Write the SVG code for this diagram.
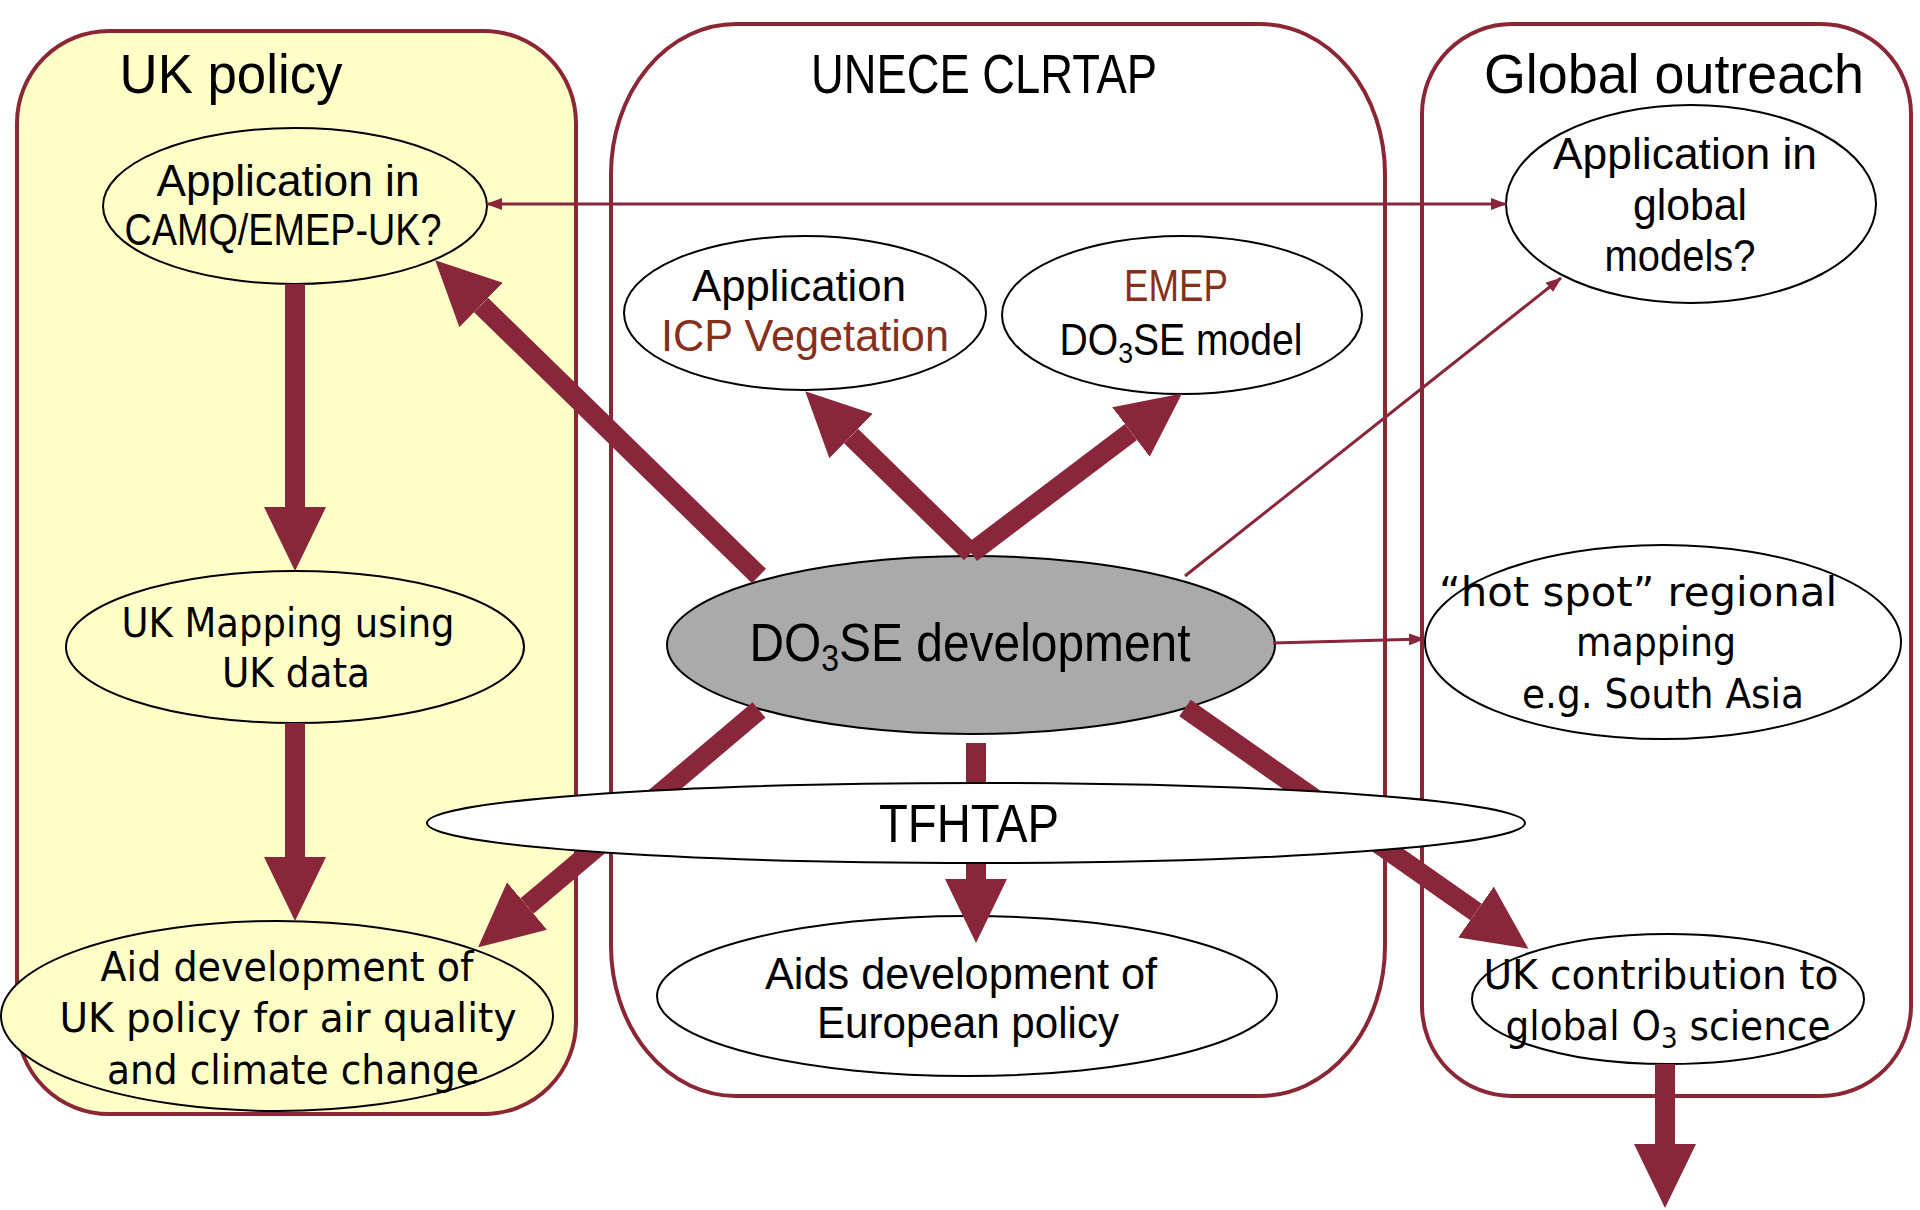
<svg xmlns="http://www.w3.org/2000/svg" width="1920" height="1210" viewBox="0 0 1920 1210">
<style>
.panel{stroke:#8B2635;stroke-width:4}
.node{stroke:#000;stroke-width:2}
.yel{fill:#FFFFC8}
.wht{fill:#FFFFFF}
.t{font-family:"Liberation Sans",Arial,sans-serif;fill:#000;text-anchor:middle}
.w{font-family:"DejaVu Sans",Verdana,sans-serif;fill:#000;text-anchor:middle}
.br{fill:#86301C}
.thick{stroke:#89263A;stroke-width:20;fill:none;marker-end:url(#bigHead)}
.thin{stroke:#89263A;stroke-width:3;fill:none;marker-end:url(#smallHead)}
</style>
<defs>
<marker id="bigHead" markerUnits="userSpaceOnUse" viewBox="0 0 64 62" markerWidth="64" markerHeight="62" refX="0" refY="31" orient="auto">
<path d="M0,0 L64,31 L0,62 z" fill="#89263A"/>
</marker>
<marker id="smallHead" markerUnits="userSpaceOnUse" viewBox="0 0 16 12" markerWidth="16" markerHeight="12" refX="15" refY="6" orient="auto-start-reverse">
<path d="M0,0 L16,6 L0,12 z" fill="#89263A"/>
</marker>
</defs>
<rect width="1920" height="1210" fill="#FFFFFF"/>

<g id="panel-uk">
<rect class="panel yel" x="17" y="31" width="559" height="1083" rx="92" ry="92"/>
<text class="t" x="231" y="93" font-size="56" textLength="223" lengthAdjust="spacingAndGlyphs">UK policy</text>
</g>
<g id="panel-unece">
<rect class="panel" fill="none" x="611" y="24" width="774" height="1072" rx="125" ry="150"/>
<text class="t" x="984" y="93" font-size="56" textLength="346" lengthAdjust="spacingAndGlyphs">UNECE CLRTAP</text>
</g>
<g id="panel-global">
<rect class="panel" fill="none" x="1422" y="24" width="489" height="1072" rx="90" ry="90"/>
<text class="t" x="1674" y="93" font-size="56" textLength="380" lengthAdjust="spacingAndGlyphs">Global outreach</text>
</g>

<g id="node-camq">
<ellipse class="node yel" cx="295" cy="206" rx="192" ry="78"/>
<text class="t" x="288" y="196" font-size="44" textLength="263" lengthAdjust="spacingAndGlyphs">Application in</text>
<text class="t" x="283" y="245" font-size="44" textLength="317" lengthAdjust="spacingAndGlyphs">CAMQ/EMEP-UK?</text>
</g>
<g id="node-icp">
<ellipse class="node wht" cx="805" cy="313" rx="181" ry="77"/>
<text class="t" x="799" y="301" font-size="44" textLength="214" lengthAdjust="spacingAndGlyphs">Application</text>
<text class="t br" x="805" y="351" font-size="44" textLength="288" lengthAdjust="spacingAndGlyphs">ICP Vegetation</text>
</g>
<g id="node-emep">
<ellipse class="node wht" cx="1182" cy="315" rx="180" ry="79"/>
<text class="t br" x="1176" y="301" font-size="44" textLength="104" lengthAdjust="spacingAndGlyphs">EMEP</text>
<text class="t" x="1181" y="355" font-size="44" textLength="243" lengthAdjust="spacingAndGlyphs">DO<tspan font-size="30" baseline-shift="-8">3</tspan>SE model</text>
</g>
<g id="node-globalmodels">
<ellipse class="node wht" cx="1691" cy="204" rx="185" ry="99"/>
<text class="t" x="1685" y="169" font-size="44" textLength="264" lengthAdjust="spacingAndGlyphs">Application in</text>
<text class="t" x="1690" y="220" font-size="44" textLength="114" lengthAdjust="spacingAndGlyphs">global</text>
<text class="t" x="1680" y="271" font-size="44" textLength="151" lengthAdjust="spacingAndGlyphs">models?</text>
</g>
<g id="node-ukmapping">
<ellipse class="node yel" cx="295" cy="647" rx="229" ry="76"/>
<text class="w" x="288" y="637" font-size="40" textLength="333" lengthAdjust="spacingAndGlyphs">UK Mapping using</text>
<text class="w" x="296" y="687" font-size="40" textLength="148" lengthAdjust="spacingAndGlyphs">UK data</text>
</g>
<g id="node-do3se">
<ellipse class="node" fill="#AAAAAA" cx="971" cy="645" rx="304" ry="89"/>
<text class="t" x="970" y="661" font-size="54" textLength="441" lengthAdjust="spacingAndGlyphs">DO<tspan font-size="36" baseline-shift="-10">3</tspan>SE development</text>
</g>
<g id="node-hotspot">
<ellipse class="node wht" cx="1663" cy="642" rx="238" ry="97"/>
<text class="w" x="1638" y="606" font-size="40" textLength="398" lengthAdjust="spacingAndGlyphs">“hot spot” regional</text>
<text class="w" x="1656" y="656" font-size="40" textLength="160" lengthAdjust="spacingAndGlyphs">mapping</text>
<text class="w" x="1663" y="708" font-size="40" textLength="282" lengthAdjust="spacingAndGlyphs">e.g. South Asia</text>
</g>
<g id="node-ukpolicy">
<ellipse class="node yel" cx="277" cy="1016" rx="276" ry="95"/>
<text class="w" x="287" y="981" font-size="40" textLength="373" lengthAdjust="spacingAndGlyphs">Aid development of</text>
<text class="w" x="288" y="1032" font-size="40" textLength="457" lengthAdjust="spacingAndGlyphs">UK policy for air quality</text>
<text class="w" x="293" y="1084" font-size="40" textLength="372" lengthAdjust="spacingAndGlyphs">and climate change</text>
</g>
<g id="node-europe">
<ellipse class="node wht" cx="967" cy="996" rx="310" ry="80"/>
<text class="t" x="961" y="989" font-size="44" textLength="392" lengthAdjust="spacingAndGlyphs">Aids development of</text>
<text class="t" x="968" y="1038" font-size="44" textLength="302" lengthAdjust="spacingAndGlyphs">European policy</text>
</g>
<g id="node-ukcontrib">
<ellipse class="node wht" cx="1668" cy="999" rx="196" ry="65"/>
<text class="w" x="1661" y="989" font-size="40" textLength="355" lengthAdjust="spacingAndGlyphs">UK contribution to</text>
<text class="w" x="1668" y="1040" font-size="40" textLength="325" lengthAdjust="spacingAndGlyphs">global O<tspan font-size="28" baseline-shift="-8">3</tspan> science</text>
</g>

<g id="connectors">
<line class="thick" x1="759" y1="576" x2="481" y2="305"/>
<line class="thick" x1="295" y1="284" x2="295" y2="507"/>
<line class="thick" x1="295" y1="723" x2="295" y2="857"/>
<line class="thick" x1="971" y1="553" x2="851" y2="436"/>
<line class="thick" x1="971" y1="553" x2="1131" y2="432"/>
<line class="thin" x1="1185" y1="576" x2="1561" y2="278"/>
<line class="thin" x1="487" y1="204" x2="1506" y2="204" marker-start="url(#smallHead)"/>
<line class="thin" x1="1273" y1="643" x2="1424" y2="639"/>
<line class="thick" x1="759" y1="710" x2="527" y2="906"/>
<line class="thick" x1="976" y1="743" x2="976" y2="879"/>
<line class="thick" x1="1185" y1="708" x2="1476" y2="912"/>
<line class="thick" x1="1665" y1="1064" x2="1665" y2="1144"/>
</g>

<g id="node-tfhtap">
<ellipse class="node wht" cx="976" cy="823" rx="549" ry="40"/>
<text class="t" x="969" y="842" font-size="54" textLength="180" lengthAdjust="spacingAndGlyphs">TFHTAP</text>
</g>
</svg>
